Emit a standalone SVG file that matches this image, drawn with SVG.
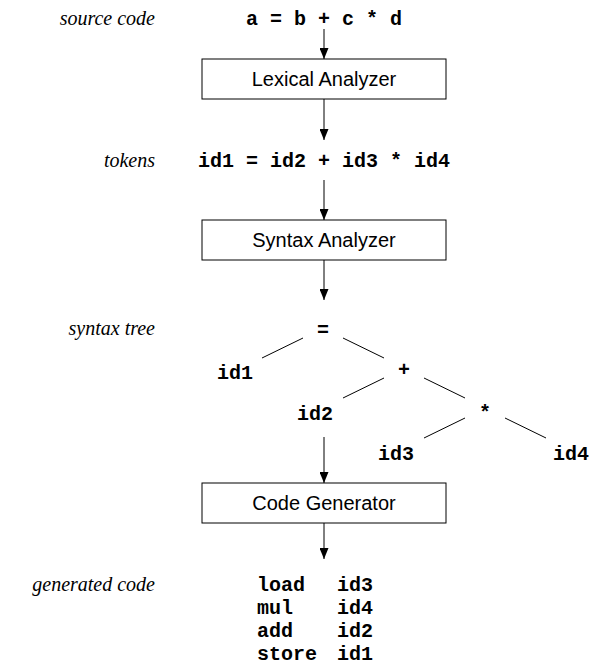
<svg xmlns="http://www.w3.org/2000/svg" width="589" height="666" viewBox="0 0 589 666">
<style>
.lbl{font-family:"Liberation Serif","Times New Roman",serif;font-style:italic;font-size:20px;text-anchor:end;fill:#000}
.code{font-family:"Liberation Mono","Courier New",monospace;font-weight:bold;font-size:20px;fill:#000}
.mid{text-anchor:middle}
.box{fill:#fff;stroke:#000;stroke-width:1}
.btxt{font-family:"Liberation Sans",Arial,sans-serif;font-size:20px;text-anchor:middle;fill:#000}
.conn line{stroke:#000;stroke-width:1}
.arr{marker-end:url(#ah)}
</style>
<defs>
<marker id="ah" markerUnits="userSpaceOnUse" markerWidth="11" markerHeight="9" refX="11" refY="4.5" orient="auto"><path d="M0,0 L11,4.5 L0,9 z" fill="#000"/></marker>
</defs>
<g id="labels">
<text class="lbl" x="155" y="25">source code</text>
<text class="lbl" x="155" y="167">tokens</text>
<text class="lbl" x="155" y="335">syntax tree</text>
<text class="lbl" x="155" y="591">generated code</text>
</g>
<g class="conn" id="connectors">
<line class="arr" x1="324" y1="29" x2="324" y2="59"/>
<line class="arr" x1="324" y1="99" x2="324" y2="140"/>
<line class="arr" x1="324" y1="180" x2="324" y2="220"/>
<line class="arr" x1="324" y1="260" x2="324" y2="300"/>
<line class="arr" x1="324" y1="437" x2="324" y2="483"/>
<line class="arr" x1="324" y1="523" x2="324" y2="559"/>
<line x1="303" y1="338" x2="262" y2="358"/>
<line x1="343" y1="338" x2="384" y2="358"/>
<line x1="384" y1="378" x2="343" y2="398"/>
<line x1="424" y1="378" x2="465" y2="398"/>
<line x1="465" y1="418" x2="424" y2="438"/>
<line x1="505" y1="418" x2="546" y2="438"/>
</g>
<g id="source"><text class="code mid" x="324" y="25">a = b + c * d</text></g>
<g id="lexical"><rect class="box" x="202" y="59" width="244" height="40"/><text class="btxt" x="324" y="86">Lexical Analyzer</text></g>
<g id="tokens"><text class="code mid" x="324" y="167">id1 = id2 + id3 * id4</text></g>
<g id="syntax"><rect class="box" x="202" y="220" width="244" height="40"/><text class="btxt" x="324" y="247">Syntax Analyzer</text></g>
<g id="tree-eq"><text class="code mid" x="323" y="336">=</text></g>
<g id="tree-id1"><text class="code mid" x="235" y="379">id1</text></g>
<g id="tree-plus"><text class="code mid" x="404" y="376">+</text></g>
<g id="tree-id2"><text class="code mid" x="315" y="420">id2</text></g>
<g id="tree-mul"><text class="code mid" x="485" y="419">*</text></g>
<g id="tree-id3"><text class="code mid" x="396" y="460">id3</text></g>
<g id="tree-id4"><text class="code mid" x="571" y="460">id4</text></g>
<g id="codegen"><rect class="box" x="202" y="483" width="244" height="40"/><text class="btxt" x="324" y="510">Code Generator</text></g>
<g id="generated">
<text class="code" x="257" y="591">load</text><text class="code" x="337" y="591">id3</text>
<text class="code" x="257" y="614">mul</text><text class="code" x="337" y="614">id4</text>
<text class="code" x="257" y="637">add</text><text class="code" x="337" y="637">id2</text>
<text class="code" x="257" y="660">store</text><text class="code" x="337" y="660">id1</text>
</g>
</svg>
